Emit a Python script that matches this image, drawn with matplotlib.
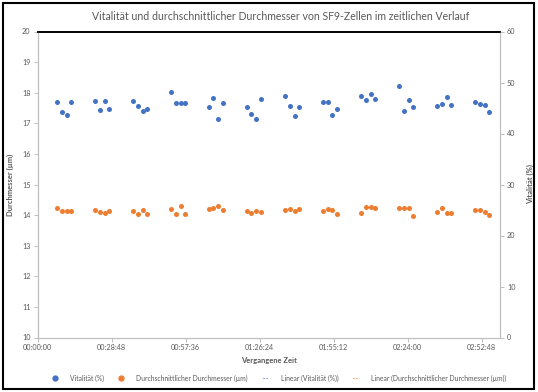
import matplotlib.pyplot as plt
from matplotlib.lines import Line2D
from matplotlib.patches import Rectangle

# elapsed time of each measurement (minutes)
zeit_min = [7.7, 9.5, 11.3, 13.1,
            22.5, 24.3, 26.1, 27.9,
            37.3, 39.1, 40.9, 42.7,
            52.1, 53.9, 55.7, 57.5,
            66.6, 68.4, 70.2, 72.0,
            81.4, 83.2, 85.0, 86.8,
            96.5, 98.3, 100.1, 101.9,
            111.2, 113.0, 114.8, 116.6,
            126.0, 127.8, 129.6, 131.4,
            140.8, 142.6, 144.4, 146.2,
            155.6, 157.4, 159.2, 161.0,
            170.4, 172.2, 174.0, 175.8]

# Vitalität (%) - secondary axis
vitalitaet = [46.1, 44.2, 43.6, 46.1,
              46.3, 44.7, 46.4, 44.9,
              46.3, 45.4, 44.5, 44.9,
              48.1, 45.9, 45.9, 46.0,
              45.2, 46.9, 42.8, 46.0,
              45.1, 43.9, 42.8, 46.7,
              47.4, 45.3, 43.4, 45.1,
              46.2, 46.2, 43.6, 44.9,
              47.4, 46.6, 47.8, 46.8,
              49.3, 44.5, 46.6, 45.2,
              45.4, 45.7, 47.2, 45.5,
              46.2, 45.8, 45.5, 44.3]

# Durchschnittlicher Durchmesser (µm) - primary axis
durchmesser = [14.22, 14.14, 14.14, 14.14,
               14.16, 14.09, 14.07, 14.13,
               14.13, 14.05, 14.16, 14.05,
               14.20, 14.05, 14.30, 14.03,
               14.19, 14.24, 14.30, 14.18,
               14.14, 14.07, 14.12, 14.11,
               14.16, 14.19, 14.12, 14.20,
               14.14, 14.19, 14.18, 14.03,
               14.07, 14.27, 14.25, 14.24,
               14.24, 14.24, 14.23, 13.97,
               14.09, 14.22, 14.07, 14.07,
               14.16, 14.17, 14.09, 14.01]

x_ticks = [0, 28.8, 57.6, 86.4, 115.2, 144.0, 172.8]
x_labels = ["00:00:00", "00:28:48", "00:57:36", "01:26:24",
            "01:55:12", "02:24:00", "02:52:48"]

BLUE = "#4472C4"
ORANGE = "#ED7D31"
TXT = "#595959"
AXC = "#BFBFBF"

plt.rcParams["font.family"] = ["Lato", "DejaVu Sans"]

W, H = 538, 392
fig = plt.figure(figsize=(W / 100, H / 100), dpi=100)

# plot area in pixel coordinates
left, right, top, bottom = 37.5, 500, 31.5, 337.5
ax = fig.add_axes([left / W, 1 - bottom / H, (right - left) / W, (bottom - top) / H])
ax2 = ax.twinx()

ax.scatter(zeit_min, durchmesser, s=13, color=ORANGE, zorder=3, linewidths=0)
ax2.scatter(zeit_min, vitalitaet, s=13, color=BLUE, zorder=3, linewidths=0)

ax.set_xlim(0, 180)
ax.set_ylim(10, 20)
ax2.set_ylim(0, 60)
ax.set_xticks(x_ticks)
ax.set_xticklabels(x_labels)
ax.set_yticks(range(10, 21))
ax2.set_yticks(range(0, 61, 10))

for a in (ax, ax2):
    for s in a.spines.values():
        s.set_color(AXC)
        s.set_linewidth(0.8)
    a.spines["top"].set_color("black")
    a.spines["top"].set_linewidth(1.2)
    a.tick_params(colors=AXC, labelcolor=TXT, labelsize=5.2, length=3, width=0.7, pad=2)

ax.set_ylabel("Durchmesser (µm)", fontsize=5.5, color=TXT, fontweight="bold", labelpad=6)
ax2.set_ylabel("Vitalität (%)", fontsize=5.5, color=TXT, fontweight="bold",
               rotation=90, labelpad=8)
ax.set_xlabel("Vergangene Zeit", fontsize=5.5, color=TXT, fontweight="bold", labelpad=4)

fig.text(281 / W, 1 - 16 / H,
         "Vitalität und durchschnittlicher Durchmesser von SF9-Zellen im zeitlichen Verlauf",
         ha="center", va="center", fontsize=7.6, color=TXT)

handles = [
    Line2D([], [], marker="o", ls="none", color=BLUE, markersize=3.5),
    Line2D([], [], marker="o", ls="none", color=ORANGE, markersize=3.5),
    Line2D([], [], ls=":", color=BLUE, lw=0.8),
    Line2D([], [], ls=":", color=ORANGE, lw=0.8),
]
labels = ["Vitalität (%)", "Durchschnittlicher Durchmesser (µm)",
          "Linear (Vitalität (%))", "Linear (Durchschnittlicher Durchmesser (µm))"]
fig.legend(handles, labels, loc="center", bbox_to_anchor=(279 / W, 1 - 378 / H),
           ncol=4, frameon=False, fontsize=4.9, labelcolor=TXT,
           handlelength=0.8, columnspacing=2.2, handletextpad=1.8)

fig.patches.append(Rectangle((3 / W, 3 / H), 531 / W, 386 / H, transform=fig.transFigure,
                             fill=False, edgecolor="black", linewidth=1.5))

fig.savefig("out.png", dpi=100)
